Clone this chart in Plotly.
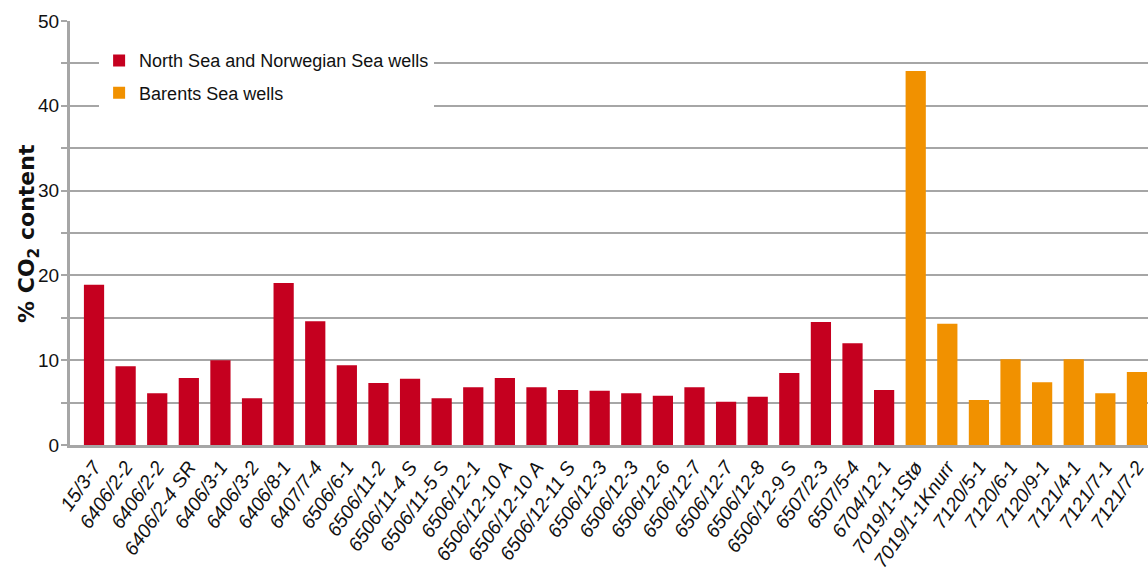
import plotly.graph_objects as go

# ---- data ----
north_labels = ["15/3-7", "6406/2-2", "6406/2-2", "6406/2-4 SR", "6406/3-1", "6406/3-2",
                "6406/8-1", "6407/7-4", "6506/6-1", "6506/11-2", "6506/11-4 S", "6506/11-5 S",
                "6506/12-1", "6506/12-10 A", "6506/12-10 A", "6506/12-11 S", "6506/12-3",
                "6506/12-3", "6506/12-6", "6506/12-7", "6506/12-7", "6506/12-8", "6506/12-9 S",
                "6507/2-3", "6507/5-4", "6704/12-1"]
north_values = [18.9, 9.3, 6.1, 7.9, 10.0, 5.5, 19.1, 14.6, 9.4, 7.3, 7.8, 5.5,
                6.8, 7.9, 6.8, 6.5, 6.4, 6.1, 5.8, 6.8, 5.1, 5.7, 8.5,
                14.5, 12.0, 6.5]
barents_labels = ["7019/1-1Stø", "7019/1-1Knurr", "7120/5-1", "7120/6-1", "7120/9-1",
                  "7121/4-1", "7121/7-1", "7121/7-2"]
barents_values = [44.1, 14.3, 5.3, 10.1, 7.4, 10.1, 6.1, 8.6]

y_title = "<b>% CO<sub>2</sub> content</b>"

all_labels = north_labels + barents_labels
north_x = list(range(len(north_labels)))
barents_x = list(range(len(north_labels), len(all_labels)))

RED = "#C5001F"
ORANGE = "#F19100"
GREY = "#A6A6A6"
FONT = "Liberation Sans, Arial, sans-serif"
TXT = "#111111"

fig = go.Figure()
fig.add_trace(go.Bar(x=north_x, y=north_values, name="North Sea and Norwegian Sea wells",
                     marker=dict(color=RED, line=dict(width=0)), width=0.64,
                     legendgroup="a"))
fig.add_trace(go.Bar(x=barents_x, y=barents_values, name="Barents Sea wells",
                     marker=dict(color=ORANGE, line=dict(width=0)), width=0.64,
                     legendgroup="b"))

fig.update_layout(
    width=1148, height=575,
    margin=dict(l=70, r=0, t=21, b=130, autoexpand=False),
    plot_bgcolor="white", paper_bgcolor="white",
    barmode="overlay",
    font=dict(family=FONT, color=TXT, size=18),
    showlegend=True,
    legend=dict(x=0.027, y=0.95, xanchor="left", yanchor="top",
                bgcolor="white", font=dict(size=18, family=FONT, color=TXT),
                traceorder="grouped", tracegroupgap=6, itemwidth=30),
    xaxis=dict(
        range=[-0.76, len(all_labels) - 1 + 0.35],
        tickmode="array", tickvals=list(range(len(all_labels))), ticktext=all_labels,
        tickangle=-55, tickfont=dict(size=19.5, family=FONT, color=TXT, style="italic"),
        ticklabeloverflow="allow",
        showline=True, linecolor=GREY, linewidth=3,
        showgrid=False, zeroline=False, ticks="", automargin=False,
    ),
    yaxis=dict(
        range=[0, 50], dtick=10, tick0=0,
        tickfont=dict(size=19, family=FONT, color=TXT),
        ticks="outside", ticklen=6, tickwidth=2, tickcolor=GREY,
        ticklabelstandoff=-2,
        showline=True, linecolor=GREY, linewidth=3,
        showgrid=True, gridcolor=GREY, gridwidth=1.5,
        minor=dict(dtick=5, tick0=0, showgrid=True, gridcolor=GREY, gridwidth=1.5,
                   ticks="outside", ticklen=6, tickwidth=2, tickcolor=GREY),
        zeroline=False, automargin=False,
    ),
    annotations=[dict(text=y_title, textangle=-90, xref="paper", yref="paper",
                      x=-0.039, y=0.5, xanchor="center", yanchor="middle",
                      showarrow=False,
                      font=dict(size=22, family="DejaVu Sans, sans-serif", color=TXT))],
)

fig.write_html("out.html",
               config={"displayModeBar": False},
               post_script="document.body.style.margin='0';document.body.style.padding='0';")
